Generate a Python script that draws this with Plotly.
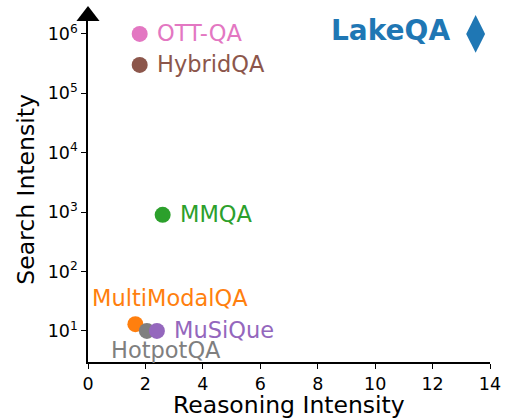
import plotly.graph_objects as go
import math

# Data
names = ["OTT-QA", "HybridQA", "MMQA", "MultiModalQA", "HotpotQA", "MuSiQue"]
reasoning = [1.8, 1.8, 2.6, 1.65, 2.05, 2.4]
search = [1.0e6, 3.0e5, 900, 13, 10, 10]
colors = ["#e377c2", "#8c564b", "#2ca02c", "#ff7f0e", "#7f7f7f", "#9467bd"]
label_pos = ["right", "right", "right", "above", "below", "right"]

lake_name = "LakeQA"
lake_reasoning = 13.5
lake_search = 1.0e6
lake_color = "#1f77b4"

x_ticks = [0, 2, 4, 6, 8, 10, 12, 14]
y_exps = [1, 2, 3, 4, 5, 6]
x_range = [0, 14]
y_range = [3, 2e6]

FONT = "DejaVu Sans"
LBL = 22.5

fig = go.Figure()

fig.add_trace(go.Scatter(
    x=reasoning, y=search, mode="markers",
    marker=dict(size=16, color=colors, line=dict(width=0)),
    showlegend=False, cliponaxis=False, hoverinfo="skip"))

fig.add_trace(go.Scatter(
    x=[lake_reasoning], y=[lake_search], mode="markers",
    marker=dict(size=27, color=lake_color, symbol="diamond-tall", line=dict(width=0)),
    showlegend=False, cliponaxis=False, hoverinfo="skip"))

# axis arrows
fig.add_trace(go.Scatter(
    x=[x_range[1]], y=[y_range[0]], mode="markers",
    marker=dict(size=20, color="black", symbol="triangle-right", line=dict(width=0)),
    showlegend=False, cliponaxis=False, hoverinfo="skip"))
fig.add_trace(go.Scatter(
    x=[x_range[0]], y=[y_range[1]], mode="markers",
    marker=dict(size=20, color="black", symbol="triangle-up", line=dict(width=0)),
    showlegend=False, cliponaxis=False, hoverinfo="skip"))

for n, xv, yv, c, p in zip(names, reasoning, search, colors, label_pos):
    ly = math.log10(yv)
    if p == "right":
        fig.add_annotation(x=xv, y=ly, text=n, showarrow=False, xanchor="left",
                           yanchor="middle", xshift=15, yshift=1, font=dict(family=FONT, size=LBL, color=c))
    elif p == "above":
        fig.add_annotation(x=xv, y=ly, text=n, showarrow=False, xanchor="center",
                           yanchor="bottom", xshift=35, yshift=11, font=dict(family=FONT, size=LBL, color=c))
    else:
        fig.add_annotation(x=xv, y=ly, text=n, showarrow=False, xanchor="center",
                           yanchor="top", xshift=19, yshift=-4, font=dict(family=FONT, size=LBL, color=c))

fig.add_annotation(x=lake_reasoning, y=math.log10(lake_search), text="<b>" + lake_name + "</b>",
                   showarrow=False, xanchor="right", yanchor="middle", xshift=-24, yshift=3,
                   font=dict(family=FONT, size=28, color=lake_color))

# axis titles
fig.add_annotation(xref="paper", yref="paper", x=0.5, y=-0.078, text="Reasoning Intensity",
                   showarrow=False, xanchor="center", yanchor="top",
                   font=dict(family=FONT, size=23.5, color="black"))
fig.add_annotation(xref="paper", yref="paper", x=-0.155, y=0.5, text="Search Intensity",
                   showarrow=False, xanchor="center", yanchor="middle", textangle=-90,
                   font=dict(family=FONT, size=23.5, color="black"))

fig.update_layout(
    width=507, height=420,
    margin=dict(l=88, r=17, t=16, b=58),
    paper_bgcolor="white", plot_bgcolor="white",
    font=dict(family=FONT, color="black"),
    hovermode=False,
)
fig.update_xaxes(
    range=x_range, tickvals=x_ticks, ticktext=[str(v) for v in x_ticks],
    showgrid=False, zeroline=False, showline=True, linecolor="black", linewidth=1.5,
    ticks="outside", ticklen=5, tickwidth=1.2, tickcolor="black", automargin=False,
    tickfont=dict(family=FONT, size=17.5, color="black"),
)
fig.update_yaxes(
    type="log", range=[math.log10(y_range[0]), math.log10(y_range[1])],
    tickvals=[10 ** e for e in y_exps], ticktext=["10<sup>%d</sup>" % e for e in y_exps],
    showgrid=False, zeroline=False, showline=True, linecolor="black", linewidth=1.5,
    ticks="outside", ticklen=5, tickwidth=1.2, tickcolor="black", automargin=False,
    tickfont=dict(family=FONT, size=17.5, color="black"),
)

fig.write_html("out.html", config={"displayModeBar": False},
               post_script="document.body.style.margin='0';document.body.style.overflow='hidden';")
